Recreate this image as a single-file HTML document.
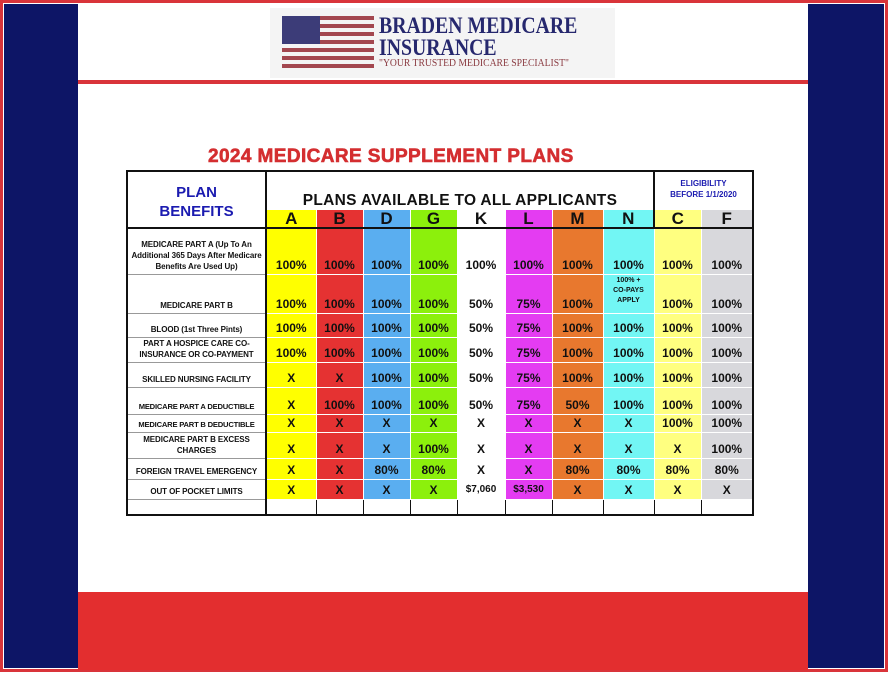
<!DOCTYPE html>
<html><head><meta charset="utf-8"><style>
*{margin:0;padding:0;box-sizing:border-box}
body{width:888px;height:678px;background:#fff;position:relative;overflow:hidden;font-family:"Liberation Sans",sans-serif}
.abs{position:absolute}
table{position:absolute;left:126px;top:170px;border-collapse:collapse;table-layout:fixed;border:2px solid #111}
td{border:1px solid #fff;font-weight:bold;font-size:12px;text-align:center;vertical-align:bottom;padding:0 0 2px 0;overflow:hidden;white-space:nowrap;color:#111;line-height:14px}
td.l{border:1px solid #999;border-right:2px solid #111;font-size:8px;white-space:normal;line-height:11px;padding:0 1px 2px;vertical-align:bottom;letter-spacing:-0.1px}
td.s{white-space:nowrap}
tr.let td{font-size:17px;padding:0;vertical-align:middle;border-bottom:2px solid #111;line-height:17px}
.a{background:#ffff00}.b{background:#e53232}.d{background:#5aaef0}.g{background:#8cf00c}.k{background:#fff}.m2{background:#e43cf2}.m{background:#e8782e}.n{background:#72f6f4}.c{background:#ffff80}.f{background:#d8d8dc}
</style></head><body>
<div class="abs" style="left:0;top:0;width:888px;height:672px;border:3px solid #d9343a"></div>
<div class="abs" style="left:4px;top:4px;width:74px;height:664px;background:#0d1566"></div>
<div class="abs" style="left:808px;top:4px;width:76px;height:664px;background:#0d1566"></div>
<div class="abs" style="left:78px;top:592px;width:730px;height:78px;background:#e32e2f"></div>
<div class="abs" style="left:78px;top:80px;width:730px;height:4px;background:#d9343a"></div>
<div class="abs" style="left:270px;top:8px;width:345px;height:70px;background:#f4f4f4"></div>
<svg class="abs" style="left:282px;top:16px" width="92" height="52">
<g fill="#a3474f"><rect y="0" width="92" height="4"/><rect y="8" width="92" height="4"/><rect y="16" width="92" height="4"/><rect y="24" width="92" height="4"/><rect y="32" width="92" height="4"/><rect y="40" width="92" height="4"/><rect y="48" width="92" height="4"/></g>
<rect width="38" height="28" fill="#3c3c78"/></svg>
<div class="abs" style="left:379px;top:15px;font-family:'Liberation Serif',serif;color:#26286e;font-size:23px;line-height:22px;font-weight:bold;transform:scaleX(0.86);transform-origin:left;white-space:nowrap">BRADEN MEDICARE<br>INSURANCE</div>
<div class="abs" style="left:379px;top:58px;font-family:'Liberation Serif',serif;color:#8a3a40;font-size:10.5px;transform:scaleX(0.92);transform-origin:left;white-space:nowrap">"YOUR TRUSTED MEDICARE SPECIALIST"</div>
<div class="abs" style="left:208px;top:146px;color:#d42e30;font-size:19px;font-weight:bold;letter-spacing:0.4px;-webkit-text-stroke:0.6px #d42e30;white-space:nowrap">2024 MEDICARE SUPPLEMENT PLANS</div>
<table>
<colgroup><col style="width:139px"><col style="width:50px"><col style="width:47px"><col style="width:47px"><col style="width:47px"><col style="width:48px"><col style="width:47px"><col style="width:51px"><col style="width:51px"><col style="width:47px"><col style="width:52px"></colgroup>
<tr style="height:38px"><td rowspan="2" style="border-right:2px solid #111;border-bottom:2px solid #111;color:#1b1bb0;font-size:15px;line-height:19px;vertical-align:middle;padding-top:6px">PLAN<br>BENEFITS</td>
<td colspan="8" style="font-size:15.5px;vertical-align:bottom;padding-bottom:1px;border-right:2px solid #111;letter-spacing:0.3px">PLANS AVAILABLE TO ALL APPLICANTS</td>
<td colspan="2" style="color:#1b1bb0;font-size:8px;line-height:11px;vertical-align:middle">ELIGIBILITY<br>BEFORE 1/1/2020</td></tr>
<tr class="let" style="height:19px"><td class="a">A</td><td class="b">B</td><td class="d">D</td><td class="g">G</td><td class="k">K</td><td class="m2">L</td><td class="m">M</td><td class="n" style="border-right:2px solid #111">N</td><td class="c">C</td><td class="f">F</td></tr>
<tr style="height:46px"><td class="l">MEDICARE PART A (Up To An Additional 365 Days After Medicare Benefits Are Used Up)</td><td class="a">100%</td><td class="b">100%</td><td class="d">100%</td><td class="g">100%</td><td class="k">100%</td><td class="m2">100%</td><td class="m">100%</td><td class="n">100%</td><td class="c">100%</td><td class="f">100%</td></tr>
<tr style="height:39px"><td class="l s">MEDICARE PART B</td><td class="a">100%</td><td class="b">100%</td><td class="d">100%</td><td class="g">100%</td><td class="k">50%</td><td class="m2">75%</td><td class="m">100%</td><td class="n" style="font-size:7px;line-height:10px;white-space:normal;vertical-align:top;padding-top:1px">100% +<br>CO-PAYS<br>APPLY</td><td class="c">100%</td><td class="f">100%</td></tr>
<tr style="height:24px"><td class="l s">BLOOD (1st Three Pints)</td><td class="a">100%</td><td class="b">100%</td><td class="d">100%</td><td class="g">100%</td><td class="k">50%</td><td class="m2">75%</td><td class="m">100%</td><td class="n">100%</td><td class="c">100%</td><td class="f">100%</td></tr>
<tr style="height:25px"><td class="l">PART A HOSPICE CARE CO-INSURANCE OR CO-PAYMENT</td><td class="a">100%</td><td class="b">100%</td><td class="d">100%</td><td class="g">100%</td><td class="k">50%</td><td class="m2">75%</td><td class="m">100%</td><td class="n">100%</td><td class="c">100%</td><td class="f">100%</td></tr>
<tr style="height:25px"><td class="l s">SKILLED NURSING FACILITY</td><td class="a">X</td><td class="b">X</td><td class="d">100%</td><td class="g">100%</td><td class="k">50%</td><td class="m2">75%</td><td class="m">100%</td><td class="n">100%</td><td class="c">100%</td><td class="f">100%</td></tr>
<tr style="height:27px"><td class="l s" style="font-size:7.6px;letter-spacing:-0.2px">MEDICARE PART A DEDUCTIBLE</td><td class="a">X</td><td class="b">100%</td><td class="d">100%</td><td class="g">100%</td><td class="k">50%</td><td class="m2">75%</td><td class="m">50%</td><td class="n">100%</td><td class="c">100%</td><td class="f">100%</td></tr>
<tr style="height:18px"><td class="l s" style="font-size:7.6px;letter-spacing:-0.2px">MEDICARE PART B DEDUCTIBLE</td><td class="a">X</td><td class="b">X</td><td class="d">X</td><td class="g">X</td><td class="k">X</td><td class="m2">X</td><td class="m">X</td><td class="n">X</td><td class="c">100%</td><td class="f">100%</td></tr>
<tr style="height:26px"><td class="l">MEDICARE PART B EXCESS CHARGES</td><td class="a">X</td><td class="b">X</td><td class="d">X</td><td class="g">100%</td><td class="k">X</td><td class="m2">X</td><td class="m">X</td><td class="n">X</td><td class="c">X</td><td class="f">100%</td></tr>
<tr style="height:21px"><td class="l s">FOREIGN TRAVEL EMERGENCY</td><td class="a">X</td><td class="b">X</td><td class="d">80%</td><td class="g">80%</td><td class="k">X</td><td class="m2">X</td><td class="m">80%</td><td class="n">80%</td><td class="c">80%</td><td class="f">80%</td></tr>
<tr style="height:20px"><td class="l s">OUT OF POCKET LIMITS</td><td class="a">X</td><td class="b">X</td><td class="d">X</td><td class="g">X</td><td class="k" style="font-size:10px">$7,060</td><td class="m2" style="font-size:10px">$3,530</td><td class="m">X</td><td class="n">X</td><td class="c">X</td><td class="f">X</td></tr>
<tr style="height:15px"><td class="l" style="border-top:1px solid #111"></td><td colspan="10" style="border-top:1px solid #111;padding:0"><div style="display:flex;height:14px"><div style="width:50px;border-right:1px solid #111"></div><div style="width:47px;border-right:1px solid #111"></div><div style="width:47px;border-right:1px solid #111"></div><div style="width:47px;border-right:1px solid #111"></div><div style="width:48px;border-right:1px solid #111"></div><div style="width:47px;border-right:1px solid #111"></div><div style="width:51px;border-right:1px solid #111"></div><div style="width:51px;border-right:1px solid #111"></div><div style="width:47px;border-right:1px solid #111"></div></div></td></tr>
</table>
</body></html>
